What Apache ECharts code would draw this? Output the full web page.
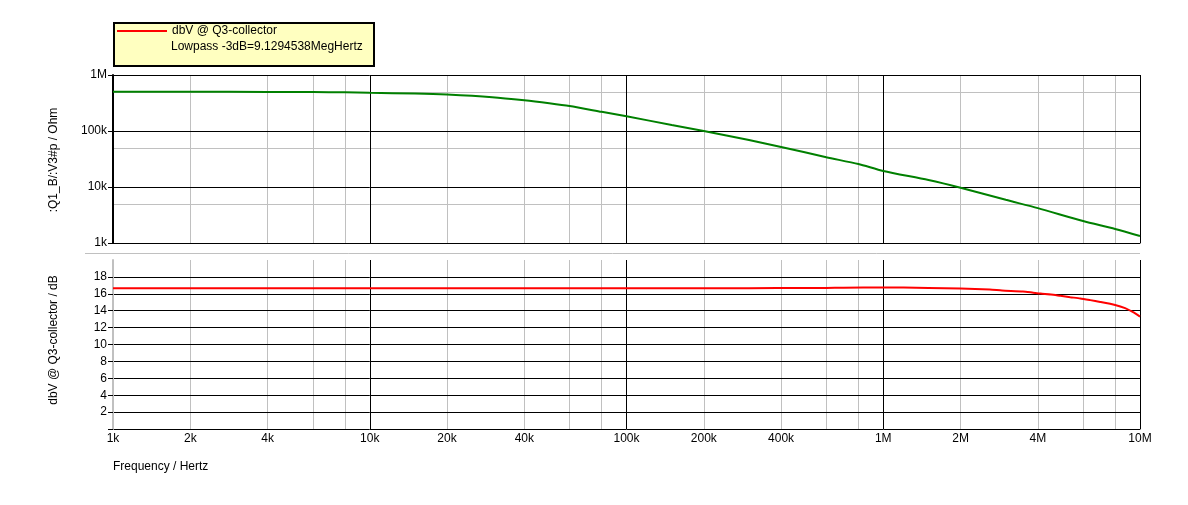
<!DOCTYPE html>
<html><head><meta charset="utf-8">
<script src="https://cdn.jsdelivr.net/npm/echarts@6/dist/echarts.min.js"></script>
<style>html,body{margin:0;padding:0;background:#fff}#c{width:1188px;height:505px}</style>
</head><body><div id="c"></div>
<script>
// ---- data ----
const freqTop = [1e3, 2e3, 4e3, 6e3, 8e3, 1e4, 1.5e4, 2e4, 3e4, 4e4, 5e4, 6e4, 8e4, 1e5, 1.5e5, 2e5, 3e5, 4e5, 6e5, 8e5, 1e6, 1.5e6, 2e6, 3e6, 4e6, 6e6, 8e6, 1e7];
const impedanceOhm = [500e3, 500e3, 499e3, 496e3, 490e3, 480e3, 466e3, 447e3, 402e3, 354e3, 313e3, 279e3, 220e3, 183e3, 128e3, 100e3, 69e3, 52e3, 34e3, 25.7e3, 19.3e3, 13.3e3, 9.7e3, 5.9e3, 4.2e3, 2.47e3, 1.78e3, 1.33e3];
const freqBottom = [1e3, 1e4, 1e5, 3e5, 5e5, 6e5, 7e5, 1e6, 1.2e6, 1.5e6, 2e6, 2.6e6, 2.9e6, 3.5e6, 3.8e6, 4.1e6, 4.5e6, 4.9e6, 5.35e6, 5.85e6, 6.4e6, 7e6, 8e6, 8.75e6, 9.4e6, 1e7];
const gainDbV = [16.66, 16.66, 16.66, 16.67, 16.68, 16.70, 16.73, 16.74, 16.74, 16.70, 16.62, 16.50, 16.39, 16.27, 16.15, 16.03, 15.92, 15.76, 15.60, 15.45, 15.25, 15.04, 14.68, 14.30, 13.82, 13.30];

const xLabelFreqs = [1e3, 2e3, 4e3, 1e4, 2e4, 4e4, 1e5, 2e5, 4e5, 1e6, 2e6, 4e6, 1e7];
const xLabelTexts = ['1k', '2k', '4k', '10k', '20k', '40k', '100k', '200k', '400k', '1M', '2M', '4M', '10M'];
const xMinorGridFreqs = [2e3, 4e3, 6e3, 8e3, 2e4, 4e4, 6e4, 8e4, 2e5, 4e5, 6e5, 8e5, 2e6, 4e6, 6e6, 8e6];
const yTopLabelValues = [1e3, 1e4, 1e5, 1e6];
const yTopLabelTexts = ['1k', '10k', '100k', '1M'];
const yTopMinorGrid = [5e3, 5e4, 5e5];
const yBottomTickValues = [0, 2, 4, 6, 8, 10, 12, 14, 16, 18];
const yBottomLabelValues = [2, 4, 6, 8, 10, 12, 14, 16, 18];

const seriesNameBottom = 'dbV @ Q3-collector';
const legendNote = 'Lowpass -3dB=9.1294538MegHertz';
const yNameTop = ':Q1_B/:V3#p / Ohm';
const yNameBottom = 'dbV @ Q3-collector / dB';
const xName = 'Frequency / Hertz';

// ---- chart ----
const FONT = 'Liberation Sans, Arial, sans-serif';
const BLACK = '#000000', GRAY = '#c0c0c0';
const lg = v => Math.log10(v);
function nearestLabel(vals, texts, v, isLog) {
  for (let i = 0; i < vals.length; i++) {
    const a = isLog ? lg(vals[i]) : vals[i];
    if (Math.abs(a - v) < 1e-6 * Math.max(1, Math.abs(a))) return texts[i];
  }
  return '';
}
const chart = echarts.init(document.getElementById('c'), null, {renderer: 'canvas'});
const option = {
  animation: false,
  backgroundColor: '#ffffff',
  textStyle: {fontFamily: FONT},
  grid: [
    {left: 113, top: 75, width: 1027, height: 168},
    {left: 113, top: 260, width: 1027, height: 169}
  ],
  legend: {
    data: [seriesNameBottom], left: 117, top: 25, padding: 0,
    icon: 'rect', itemWidth: 50, itemHeight: 2,
    textStyle: {color: BLACK, fontSize: 12, fontFamily: FONT}
  },
  xAxis: [
    { // 0: top data axis (log)
      type: 'log', logBase: 10, min: 1e3, max: 1e7, gridIndex: 0, position: 'bottom',
      axisLine: {show: true, lineStyle: {color: BLACK, width: 1}},
      axisTick: {show: false}, axisLabel: {show: false},
      splitLine: {show: true, lineStyle: {color: BLACK, width: 1}}
    },
    { // 1: top minor grid (log10 space)
      type: 'value', min: 3, max: 7, gridIndex: 0,
      axisLine: {show: false}, axisLabel: {show: false},
      axisTick: {show: false, customValues: xMinorGridFreqs.map(lg)},
      splitLine: {show: true, lineStyle: {color: GRAY, width: 1}}
    },
    { // 2: bottom labels + minor grid (log10 space)
      type: 'value', min: 3, max: 7, gridIndex: 1, position: 'bottom',
      axisLine: {show: true, lineStyle: {color: BLACK, width: 1}},
      axisTick: {show: false, customValues: xMinorGridFreqs.map(lg)},
      axisLabel: {show: true, customValues: xLabelFreqs.map(lg), margin: 4,
        color: BLACK, fontSize: 12, fontFamily: FONT,
        formatter: v => nearestLabel(xLabelFreqs, xLabelTexts, v, true)},
      splitLine: {show: true, lineStyle: {color: GRAY, width: 1}}
    },
    { // 3: bottom data axis (log)
      type: 'log', logBase: 10, min: 1e3, max: 1e7, gridIndex: 1,
      axisLine: {show: false}, axisTick: {show: false}, axisLabel: {show: false},
      splitLine: {show: true, showMinLine: false, lineStyle: {color: BLACK, width: 1}}
    }
  ],
  yAxis: [
    { // 0: top data axis (log)
      type: 'log', logBase: 10, min: 1e3, max: 1e6, gridIndex: 0, position: 'left', z: 3,
      axisLine: {show: true, lineStyle: {color: BLACK, width: 2}},
      axisTick: {show: true, length: 5, lineStyle: {color: BLACK}},
      axisLabel: {show: true, margin: 6, color: BLACK, fontSize: 12, fontFamily: FONT,
        formatter: v => nearestLabel(yTopLabelValues, yTopLabelTexts, lg(v), true)},
      splitLine: {show: true, lineStyle: {color: BLACK, width: 1}}
    },
    { // 1: top minor grid (log10 space)
      type: 'value', min: 3, max: 6, gridIndex: 0,
      axisLine: {show: false}, axisLabel: {show: false},
      axisTick: {show: false, customValues: yTopMinorGrid.map(lg)},
      splitLine: {show: true, lineStyle: {color: GRAY, width: 1}}
    },
    { // 2: bottom dB axis
      type: 'value', min: 0, max: 20, interval: 2, gridIndex: 1, position: 'left', z: 3,
      axisLine: {show: true, lineStyle: {color: GRAY, width: 2}},
      axisTick: {show: true, length: 5, customValues: yBottomTickValues, lineStyle: {color: BLACK}},
      axisLabel: {show: true, margin: 6, customValues: yBottomLabelValues, color: BLACK, fontSize: 12, fontFamily: FONT},
      splitLine: {show: true, showMinLine: false, showMaxLine: true, lineStyle: {color: BLACK, width: 1}}
    }
  ],
  series: [
    {
      name: 'Impedance', type: 'line', xAxisIndex: 0, yAxisIndex: 0,
      data: freqTop.map((f, i) => [f, impedanceOhm[i]]),
      showSymbol: false, symbol: 'none', smooth: 0.25, z: 5,
      lineStyle: {color: '#008000', width: 2}, itemStyle: {color: '#008000'}
    },
    {
      name: seriesNameBottom, type: 'line', xAxisIndex: 3, yAxisIndex: 2,
      data: freqBottom.map((f, i) => [f, gainDbV[i]]),
      showSymbol: false, symbol: 'none', smooth: 0.2, z: 5,
      lineStyle: {color: '#ff0000', width: 2}, itemStyle: {color: '#ff0000'}
    }
  ],
  graphic: [
    {type: 'rect', z: 1, shape: {x: 114, y: 23, width: 260, height: 43},
     style: {fill: '#FFFFC0', stroke: BLACK, lineWidth: 2}},
    {type: 'text', z: 5, x: 171, y: 47,
     style: {text: legendNote, fill: BLACK, fontSize: 12, fontFamily: FONT, verticalAlign: 'middle', align: 'left'}},
    {type: 'line', z: 1, shape: {x1: 85, y1: 253.5, x2: 1140, y2: 253.5},
     style: {stroke: GRAY, lineWidth: 1}},
    {type: 'text', z: 5, x: 54, y: 160, rotation: Math.PI / 2,
     style: {text: yNameTop, fill: BLACK, fontSize: 12, fontFamily: FONT, align: 'center', verticalAlign: 'middle'}},
    {type: 'text', z: 5, x: 54, y: 340, rotation: Math.PI / 2,
     style: {text: yNameBottom, fill: BLACK, fontSize: 12, fontFamily: FONT, align: 'center', verticalAlign: 'middle'}},
    {type: 'text', z: 5, x: 113, y: 467,
     style: {text: xName, fill: BLACK, fontSize: 12, fontFamily: FONT, align: 'left', verticalAlign: 'middle'}}
  ]
};
chart.setOption(option);
</script>
</body></html>
